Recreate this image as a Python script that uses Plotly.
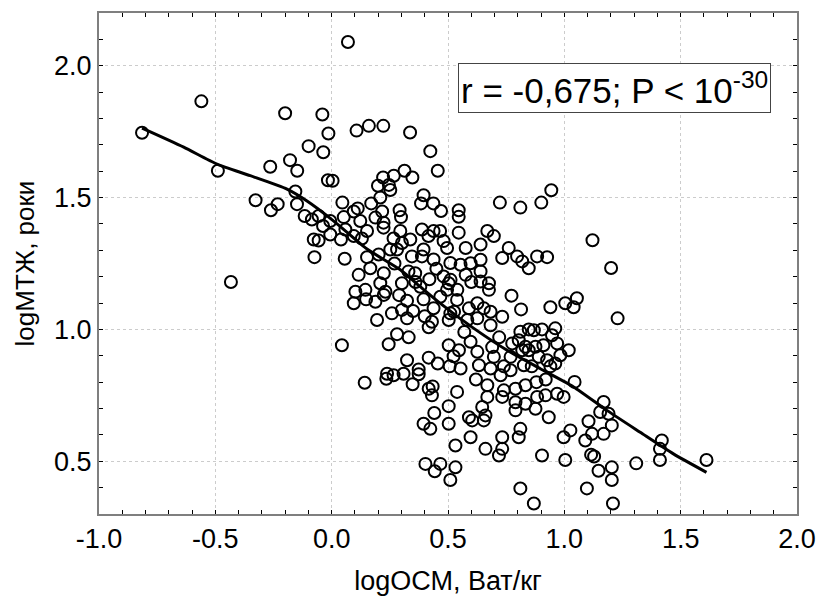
import plotly.graph_objects as go

# scatter points
ocm = [
    0.07, -0.56, -0.815, -0.20, -0.04, -0.014, 0.107, 0.16, 0.222, 0.337,
    -0.099, -0.036, 0.424, -0.489, -0.264, -0.179, -0.148, 0.456, -0.016, 0.004,
    0.221, 0.267, 0.313, 0.347, 0.199, 0.246, 0.252, 0.209, 0.395, -0.156,
    -0.327, -0.261, -0.232, -0.149, -0.116, -0.085, 0.046, 0.095, 0.112, 0.17,
    0.217, 0.292, 0.298, 0.384, 0.437, 0.47, 0.546, 0.546, -0.056, -0.006,
    -0.037, 0.052, 0.123, 0.059, -0.006, 0.04, -0.077, -0.056, 0.095, 0.152,
    0.13, 0.223, 0.223, 0.188, 0.295, 0.266, 0.302, 0.338, 0.388, 0.416,
    0.438, 0.466, 0.481, 0.496, 0.395, 0.546, -0.074, 0.056, 0.152, 0.202,
    0.252, 0.281, 0.345, 0.388, 0.438, 0.51,
    -0.433, 0.116, 0.166, 0.224, 0.209, 0.102, 0.145, 0.148, 0.188, 0.095,
    0.231, 0.224, 0.302, 0.359, 0.381, 0.324, 0.395, 0.438, 0.467, 0.195,
    0.259, 0.302, 0.324, 0.417, 0.431, 0.481, 0.503, 0.496, 0.539, 0.51,
    0.503, 0.044, 0.281, 0.331, 0.245, 0.324, 0.417, 0.456, 0.503, 0.524,
    0.507, 0.238, 0.235, 0.266, 0.309, 0.374, 0.374, 0.348, 0.142, 0.417,
    0.434, 0.431, 0.539, 0.503, 0.441, 0.395, 0.424, 0.503, 0.532, 0.403,
    0.467, 0.443, 0.532, 0.51,
    0.944, 0.901, 0.811, 0.723, 1.121, 0.669, 0.697, 0.64, 0.576, 0.761,
    0.797, 0.733, 0.819, 0.883, 0.926, 1.201,
    0.847, 0.554, 0.597, 0.64, 0.576, 0.64, 0.64, 0.676, 0.676, 0.511,
    0.54, 0.773, 0.814, 0.94, 1.004, 1.04, 1.054, 1.229, 0.59, 0.626,
    0.654, 0.683, 0.626, 0.583, 0.683, 0.733, 0.526,
    0.811, 0.847, 0.869, 0.904, 0.961, 0.804, 0.833, 0.847, 0.876, 0.89,
    0.926, 0.947, 0.969, 0.983, 0.961, 1.019, 0.776, 0.769, 0.819,
    0.547, 0.554, 0.597, 0.626, 0.633, 0.69, 0.697, 0.683, 0.726, 0.769, 0.826,
    0.669, 0.669, 0.74, 0.733, 0.79, 0.833, 0.79, 0.833, 0.883, 0.919,
    0.876, 0.79, 0.933, 0.969, 0.997, 1.044,
    0.59, 0.604, 0.661, 0.654, 0.647,
    1.169, 1.154, 1.19, 1.204, 1.104, 1.119, 1.169, 1.09, 1.026, 0.997,
    0.811, 0.804, 0.733, 0.733, 0.719, 0.597, 0.661, 0.904, 1.004, 1.115, 1.128,
    1.419, 1.411, 1.411, 1.611, 1.309,
    1.147, 1.204, 1.204, 0.811, 1.097, 0.869, 1.209,
    0.27, 0.33, 0.36, 0.42, 0.45, 0.29, 0.35, 0.40, 0.86, 0.91,
    0.94, 0.88, 0.92, 0.74, 0.60, 0.62, 0.57, 0.72,
]
mtzh = [
    2.09, 1.865, 1.746, 1.82, 1.815, 1.743, 1.754, 1.772, 1.772, 1.747,
    1.695, 1.672, 1.676, 1.602, 1.617, 1.642, 1.602, 1.602, 1.566, 1.564,
    1.576, 1.583, 1.602, 1.576, 1.545, 1.548, 1.529, 1.50, 1.509, 1.523,
    1.49, 1.452, 1.475, 1.475, 1.43, 1.417, 1.481, 1.447, 1.459, 1.478,
    1.447, 1.452, 1.426, 1.478, 1.478, 1.449, 1.452, 1.427, 1.43, 1.411,
    1.392, 1.426, 1.411, 1.379, 1.36, 1.341, 1.341, 1.337, 1.354, 1.373,
    1.345, 1.405, 1.386, 1.424, 1.373, 1.345, 1.328, 1.341, 1.379, 1.354,
    1.373, 1.373, 1.335, 1.309, 1.303, 1.367, 1.274, 1.268, 1.274, 1.284,
    1.303, 1.303, 1.277, 1.277, 1.265, 1.252,
    1.18, 1.207, 1.232, 1.213, 1.175, 1.143, 1.15, 1.114, 1.105, 1.099,
    1.143, 1.131, 1.175, 1.213, 1.162, 1.109, 1.114, 1.08, 1.124, 1.036,
    1.061, 1.074, 1.042, 1.008, 1.029, 1.201, 1.175, 1.15, 1.112, 1.061,
    1.036, 0.94, 0.982, 0.97, 0.944, 0.883, 0.893, 0.871, 0.94, 0.898,
    0.86, 0.832, 0.813, 0.826, 0.832, 0.848, 0.83, 0.792, 0.798, 0.775,
    0.784, 0.75, 0.763, 0.709, 0.683, 0.642, 0.623, 0.642, 0.56, 0.49,
    0.49, 0.462, 0.477, 0.429,
    1.528, 1.481, 1.462, 1.481, 1.338, 1.373, 1.354, 1.322, 1.309, 1.309,
    1.277, 1.271, 1.258, 1.277, 1.274, 1.233,
    1.232, 1.245, 1.251, 1.264, 1.207, 1.22, 1.182, 1.175, 1.15, 1.188,
    1.15, 1.128, 1.076, 1.084, 1.099, 1.084, 1.118, 1.042, 1.08, 1.099,
    1.08, 1.067, 1.042, 1.036, 1.016, 1.048, 1.067,
    0.991, 1.0, 0.997, 1.0, 1.004, 0.959, 0.934, 0.921, 0.934, 0.896,
    0.883, 0.978, 0.947, 0.902, 0.871, 0.921, 0.947, 0.896, 0.921,
    0.921, 0.852, 0.953, 0.915, 0.864, 0.933, 0.896, 0.852, 0.826, 0.845, 0.864,
    0.788, 0.744, 0.769, 0.744, 0.775, 0.788, 0.724, 0.718, 0.744, 0.75,
    0.699, 0.693, 0.667, 0.756, 0.744, 0.801,
    0.667, 0.655, 0.674, 0.655, 0.706,
    0.725, 0.687, 0.68, 0.636, 0.652, 0.604, 0.604, 0.579, 0.617, 0.591,
    0.623, 0.591, 0.591, 0.547, 0.522, 0.591, 0.547, 0.522, 0.505, 0.525, 0.518,
    0.579, 0.547, 0.505, 0.505, 0.492,
    0.464, 0.477, 0.429, 0.397, 0.397, 0.34, 0.34,
    1.25, 1.22, 1.18, 1.19, 1.23, 1.13, 1.07, 1.05, 0.86, 0.94,
    0.86, 0.80, 0.81, 0.86, 1.18, 0.81, 0.99, 0.97,
]

# smoothed fit line
fit_x = [-0.815, -0.636, -0.493, -0.35, -0.192, -0.106, 0.009, 0.152, 0.295,
         0.381, 0.467, 0.611, 0.754, 0.897, 1.04, 1.183, 1.326, 1.469, 1.611]
fit_y = [1.763, 1.691, 1.627, 1.583, 1.532, 1.487, 1.411, 1.305, 1.226,
         1.162, 1.099, 1.004, 0.921, 0.851, 0.782, 0.693, 0.61, 0.528, 0.458]

x_ticks = [-1.0, -0.5, 0.0, 0.5, 1.0, 1.5, 2.0]
y_ticks = [0.5, 1.0, 1.5, 2.0]

FONT = 'Liberation Sans, Arial, sans-serif'
AXIS_COLOR = '#7f7f7f'

fig = go.Figure()

fig.add_trace(go.Scatter(
    x=ocm, y=mtzh, mode='markers',
    marker=dict(symbol='circle-open', size=12, color='black',
                line=dict(width=2, color='black')),
    showlegend=False, hoverinfo='skip'
))

fig.add_trace(go.Scatter(
    x=fit_x, y=fit_y, mode='lines',
    line=dict(color='black', width=3, shape='spline', smoothing=0.6),
    showlegend=False, hoverinfo='skip'
))

axis_common = dict(
    showline=True, linecolor=AXIS_COLOR, linewidth=2, mirror='ticks',
    ticks='inside', ticklen=4, tickcolor='black', tickwidth=1,
    showgrid=True, gridcolor='#cccccc', griddash='dot', gridwidth=1,
    zeroline=False, automargin=False,
    tickfont=dict(family=FONT, size=27, color='black'),
    minor=dict(dtick=0.1, ticks='inside', ticklen=4, tickcolor='black', showgrid=False),
)

fig.update_xaxes(
    range=[-1.0, 2.0], tickvals=x_ticks, ticktext=['{:.1f}'.format(v) for v in x_ticks],
    title=dict(text='logОСМ, Ват/кг', font=dict(family=FONT, size=27, color='black'), standoff=18),
    **axis_common
)
fig.update_yaxes(
    range=[0.3, 2.2], tickvals=y_ticks, ticktext=['{:.1f}'.format(v) for v in y_ticks],
    title=dict(text='logМТЖ, роки', font=dict(family=FONT, size=26, color='black'), standoff=12),
    **axis_common
)

fig.add_annotation(
    x=0.7385, y=0.85, xref='paper', yref='paper', xanchor='center', yanchor='middle',
    text='r = -0,675; P < 10<sup>-30</sup>', showarrow=False,
    font=dict(family=FONT, size=35, color='black'),
    bordercolor='#444444', borderwidth=1, borderpad=2, bgcolor='white'
)

fig.update_layout(
    width=818, height=596,
    margin=dict(l=99, r=21, t=13, b=82),
    paper_bgcolor='white', plot_bgcolor='white',
    template='none',
)

# page body has a default 8px margin; drop it so the chart sits at the corner
fig.write_html('out.html', config={'displayModeBar': False},
               post_script="document.body.style.margin='0';")
